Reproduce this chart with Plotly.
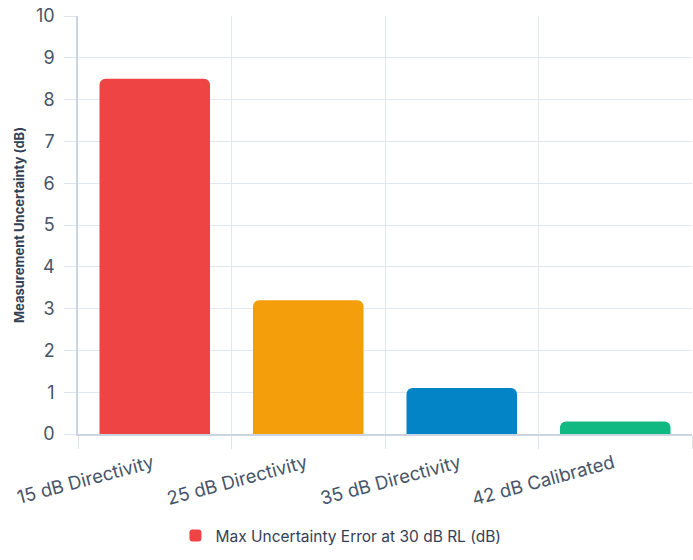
import plotly.graph_objects as go

categories = ["15 dB Directivity", "25 dB Directivity", "35 dB Directivity", "42 dB Calibrated"]
values = [8.5, 3.2, 1.1, 0.3]
colors = ["#ef4444", "#f59e0b", "#0284c7", "#10b981"]
series_name = "Max Uncertainty Error at 30 dB RL (dB)"
y_title = "Measurement Uncertainty (dB)"
y_ticks = [0, 1, 2, 3, 4, 5, 6, 7, 8, 9, 10]

fig = go.Figure()
fig.add_trace(go.Bar(
    x=categories, y=values, name=series_name,
    marker=dict(color=colors, cornerradius=6, line=dict(width=0)),
    showlegend=True,
))

grid = "#e2e8f0"
font_family = "Inter, Lato, sans-serif"
fig.update_layout(
    width=693, height=560,
    margin=dict(l=78, r=1, t=16, b=126, autoexpand=False),
    paper_bgcolor="white", plot_bgcolor="white",
    bargap=0.28,
    font=dict(family=font_family, color="#475569"),
    showlegend=True,
    legend=dict(orientation="h", xref="container", yref="container",
                x=0.492, xanchor="center", y=0.043, yanchor="middle",
                font=dict(size=15.5, color="#334155"), itemclick=False),
    xaxis=dict(
        type="category", tickson="boundaries", showgrid=True, gridcolor=grid, gridwidth=1,
        ticks="outside", ticklen=13, tickcolor="#dfe5ec", tickangle=-15,
        tickfont=dict(size=18.5, color="#475569"),
        ticklabelshift=-2, ticklabelstandoff=10,
        showline=True, linecolor="#cbd5e1", linewidth=1.5,
        zeroline=False, automargin=False,
    ),
    yaxis=dict(
        range=[0, 10], tickvals=y_ticks, showgrid=True, gridcolor=grid, gridwidth=1,
        ticks="outside", ticklen=12, tickcolor="#dfe5ec",
        tickfont=dict(size=18, color="#475569"),
        ticklabelstandoff=6,
        showline=True, linecolor="#cbd5e1", linewidth=1.5,
        zeroline=False, automargin=False,
        title=dict(text=y_title, font=dict(size=13, color="#334155", weight="bold"), standoff=8),
    ),
)

fig.write_html("out.html", config={"displayModeBar": False},
               post_script="document.body.style.margin='0';document.body.style.padding='0';")
